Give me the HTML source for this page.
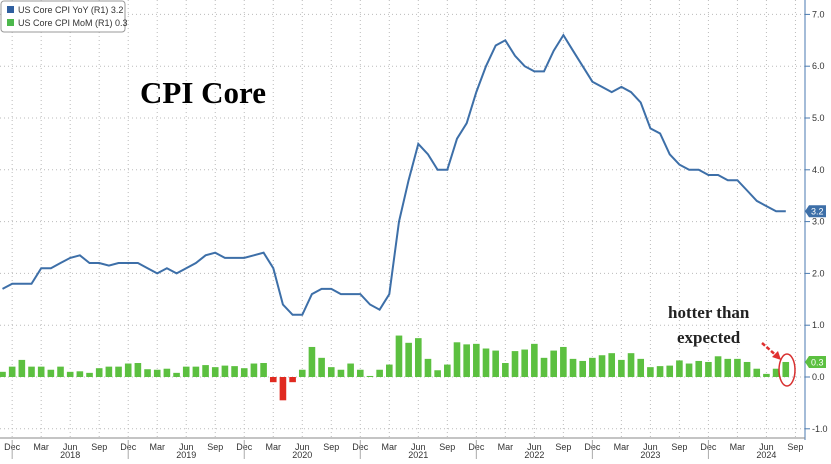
<!DOCTYPE html>
<html><head><meta charset="utf-8"><style>
body{margin:0;background:#fff;width:831px;height:459px;overflow:hidden;font-family:"Liberation Sans",sans-serif}
</style></head><body>
<svg id="chart" width="831" height="459" xmlns="http://www.w3.org/2000/svg">
<g id="grid"></g>
<g id="bars"></g>
<path id="line" fill="none" stroke="#3d6fa8" stroke-width="2"/>
<g id="axis"></g>
<text x="140" y="103" font-family="Liberation Serif,serif" font-weight="bold" font-size="31" fill="#000">CPI Core</text>
<text x="668" y="318" font-family="Liberation Serif,serif" font-weight="bold" font-size="17" fill="#222">hotter than</text>
<text x="677" y="343" font-family="Liberation Serif,serif" font-weight="bold" font-size="17" fill="#222">expected</text>
<line x1="762" y1="343" x2="778" y2="357" stroke="#e03030" stroke-width="2.5" stroke-dasharray="4,2"/>
<polygon points="781,360 772,357 778,351" fill="#e03030"/>
<ellipse cx="787" cy="370" rx="8" ry="16" fill="none" stroke="#d83030" stroke-width="1.5"/>
<g>
<rect x="1" y="1" width="124" height="31" rx="3" fill="#fff" stroke="#999"/>
<rect x="7" y="6" width="7" height="7" fill="#2f5fa0"/>
<text x="18" y="13" font-size="9" fill="#333">US Core CPI YoY (R1)  3.2</text>
<rect x="7" y="19" width="7" height="7" fill="#4cb84c"/>
<text x="18" y="26" font-size="9" fill="#333">US Core CPI MoM (R1) 0.3</text>
</g>
</svg>
<script>
const yoy=[1.7,1.8,1.8,1.8,2.1,2.1,2.2,2.3,2.35,2.2,2.2,2.15,2.2,2.2,2.2,2.1,2.0,2.1,2.0,2.1,2.2,2.35,2.4,2.3,2.3,2.3,2.35,2.4,2.1,1.4,1.2,1.2,1.6,1.7,1.7,1.6,1.6,1.6,1.4,1.3,1.6,3.0,3.8,4.5,4.3,4.0,4.0,4.6,4.9,5.5,6.0,6.4,6.5,6.2,6.0,5.9,5.9,6.3,6.6,6.3,6.0,5.7,5.6,5.5,5.6,5.5,5.3,4.8,4.7,4.3,4.1,4.0,4.0,3.9,3.9,3.8,3.8,3.6,3.4,3.3,3.2,3.2];
const mom=[0.1,0.2,0.33,0.2,0.2,0.14,0.2,0.1,0.11,0.08,0.17,0.2,0.2,0.26,0.27,0.15,0.14,0.16,0.08,0.2,0.2,0.23,0.19,0.22,0.21,0.17,0.26,0.27,-0.1,-0.45,-0.1,0.14,0.58,0.37,0.19,0.14,0.26,0.14,0.02,0.14,0.24,0.8,0.66,0.75,0.35,0.13,0.24,0.67,0.63,0.64,0.55,0.51,0.27,0.5,0.53,0.64,0.37,0.51,0.58,0.35,0.31,0.37,0.42,0.46,0.33,0.46,0.35,0.19,0.21,0.22,0.32,0.26,0.31,0.29,0.4,0.35,0.35,0.29,0.16,0.06,0.16,0.29];
const yTicks=[-1,0,1,2,3,4,5,6,7];
const monthLabels=["Dec","Mar","Jun","Sep"];
const years=["2018","2019","2020","2021","2022","2023","2024"];
const NS="http://www.w3.org/2000/svg";
const x=i=>2.5+i*9.67;
const y=v=>377-v*51.8;
function mk(t,a,p){const e=document.createElementNS(NS,t);for(const k in a)e.setAttribute(k,a[k]);p.appendChild(e);return e;}
const grid=document.getElementById('grid'),axis=document.getElementById('axis'),bars=document.getElementById('bars');
yTicks.forEach(v=>{
 const l=mk('line',{x1:0,x2:805,y1:y(v),y2:y(v),stroke:'#bbb','stroke-dasharray':'1,3'},grid);
 
 
 mk('line',{x1:805,x2:810,y1:y(v),y2:y(v),stroke:'#4a7ab0'},axis);
 const t=mk('text',{x:812,y:y(v)+3,'font-size':9,fill:'#333'},axis);
 t.textContent=v.toFixed(1);
 
 
});
mk('line',{x1:805,x2:805,y1:0,y2:440,stroke:'#4a7ab0'},axis);
mk('line',{x1:0,x2:805,y1:438,y2:438,stroke:'#888'},axis);
for(let i=1,k=0;i<=84;i+=3,k++){
 const gl=mk('line',{x1:x(i),x2:x(i),y1:0,y2:438,stroke:'#bbb','stroke-dasharray':'1,3'},grid);
 
 
 const t=mk('text',{x:x(i),y:450,'font-size':9,fill:'#333','text-anchor':'middle'},axis);
 t.textContent=monthLabels[k%4];
 
 
}
years.forEach((yr,j)=>{
 const xs=x(1+12*j);
 mk('line',{x1:xs,x2:xs,y1:440,y2:459,stroke:'#aaa'},axis);
 const t=mk('text',{x:x(1+12*j+6),y:458,'font-size':9,fill:'#333','text-anchor':'middle'},axis);
 t.textContent=yr;
 
 
});
mom.forEach((v,i)=>{
 const r=mk('rect',{x:x(i)-3.3,y:Math.min(y(v),y(0)),width:6.6,height:Math.abs(y(v)-y(0)),fill:v<0?'#e02a20':'#5cc040'},bars);
 
 
});
document.getElementById('line').setAttribute('d',yoy.map((v,i)=>(i?'L':'M')+x(i).toFixed(1)+','+y(v).toFixed(1)).join(''));
function badge(v,col,name){
 const g=mk('g',{},axis);
 
 
 mk('polygon',{points:`805,${y(v)} 809,${y(v)-6} 826,${y(v)-6} 826,${y(v)+6} 809,${y(v)+6}`,fill:col},g);
 const t=mk('text',{x:811,y:y(v)+3.5,'font-size':9,fill:'#fff'},g);t.textContent=v.toFixed(1);
}
badge(yoy[yoy.length-1],'#3d6fa8','yoy-last-value');
badge(mom[mom.length-1],'#5cc040','mom-last-value');
</script>
</body></html>
